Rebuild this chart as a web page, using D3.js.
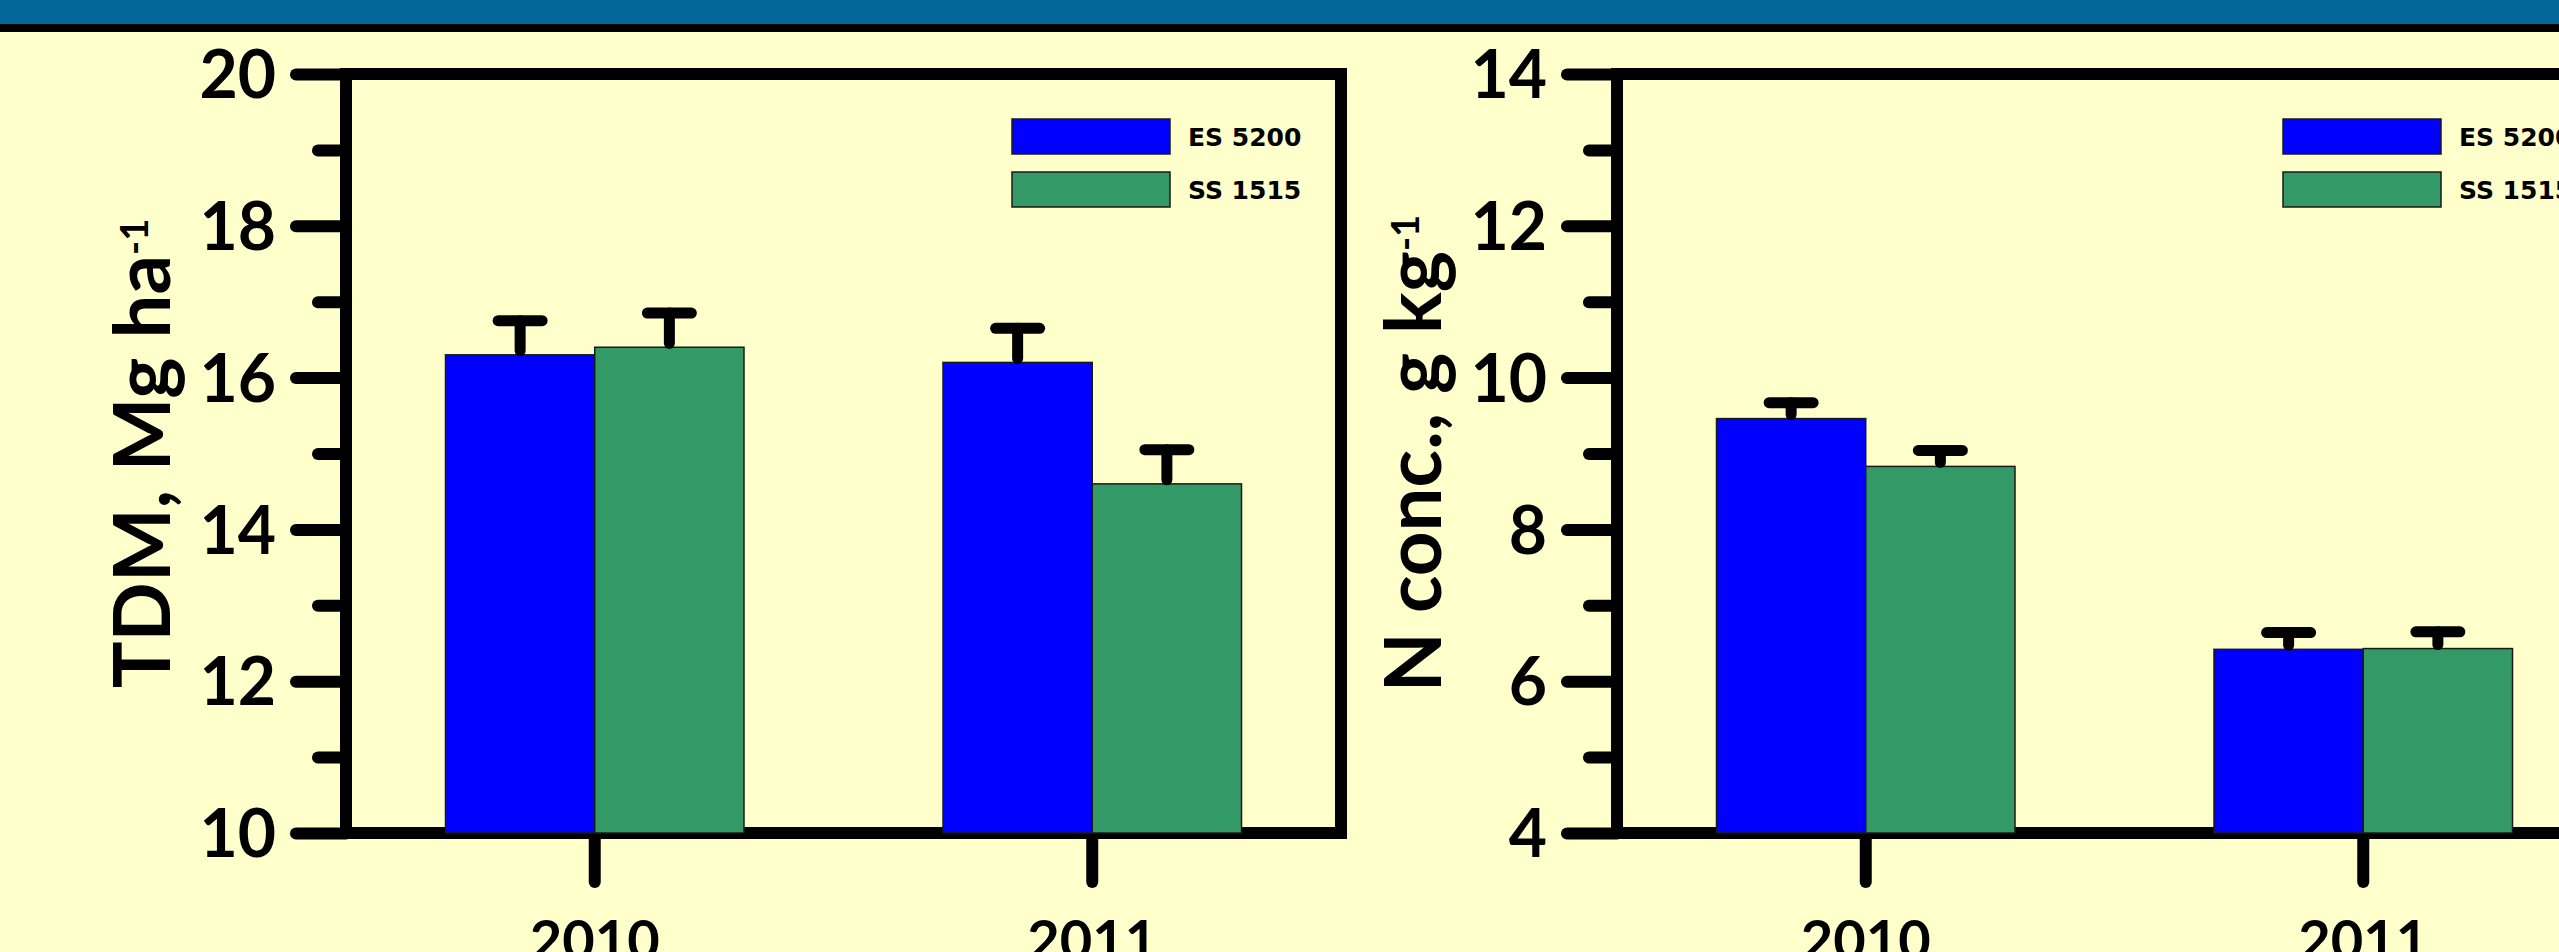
<!DOCTYPE html>
<html>
<head>
<meta charset="utf-8">
<script src="https://cdn.jsdelivr.net/npm/d3@7"></script>
<style>
  body { margin: 0; background: #ffffcc; overflow: hidden; }
  .axis text { font-family: Lato, sans-serif; font-weight: bold; fill: #000; }
  .ytitle { font-family: Lato, sans-serif; font-weight: bold; fill: #000; }
  .legend text { font-family: "DejaVu Sans", Verdana, sans-serif; font-weight: bold; fill: #000; }
</style>
</head>
<body>
<div id="chart-area"></div>
<script>
// data
var years = ["2010", "2011"];
var cultivars = ["ES 5200", "SS 1515"];
var colors = ["#0000ff", "#339966"];

// total dry matter, Mg/ha
var tdmES = [16.3, 16.2];
var tdmSS = [16.4, 14.6];
var tdmErrES = [0.45, 0.45];
var tdmErrSS = [0.45, 0.45];
var tdmTicks = [10, 12, 14, 16, 18, 20];
var tdmMinor = [11, 13, 15, 17, 19];

// N concentration, g/kg
var nES = [9.46, 6.42];
var nSS = [8.83, 6.43];
var nErrES = [0.21, 0.22];
var nErrSS = [0.21, 0.22];
var nTicks = [4, 6, 8, 10, 12, 14];
var nMinor = [5, 7, 9, 11, 13];

var W = 2559, H = 952;
var marginTop = 74;
var width = 995, height = 759;

var svg = d3.select("#chart-area")
    .append("svg")
        .attr("width", W)
        .attr("height", H);

svg.append("rect").attr("width", W).attr("height", H).attr("fill", "#ffffcc");

// header band
svg.append("rect").attr("width", W).attr("height", 24).attr("fill", "#03669a");
svg.append("rect").attr("y", 24).attr("width", W).attr("height", 8).attr("fill", "#000");

function makeRows(es, ss, esErr, ssErr) {
    return years.map(function(yr, i) {
        return {
            year: yr,
            values: [
                { key: cultivars[0], v: es[i], e: esErr[i] },
                { key: cultivars[1], v: ss[i], e: ssErr[i] }
            ]
        };
    });
}

function drawPanel(left, opts) {
    var g = svg.append("g")
        .attr("transform", "translate(" + left + "," + marginTop + ")");

    var x0 = d3.scaleBand()
        .domain(years)
        .range([0, width])
        .paddingInner(0.4)
        .paddingOuter(0.2);

    var x1 = d3.scaleBand()
        .domain(cultivars)
        .range([0, x0.bandwidth()]);

    var y = d3.scaleLinear()
        .domain([opts.ticks[0], opts.ticks[opts.ticks.length - 1]])
        .range([height, 0]);

    // frame
    g.append("rect")
        .attr("width", width)
        .attr("height", height)
        .attr("fill", "none")
        .attr("stroke", "#000")
        .attr("stroke-width", 12);

    // Y axis (minor + major)
    g.append("g")
        .attr("class", "axis")
        .call(d3.axisLeft(y).tickValues(opts.minor).tickSize(28).tickFormat(""));

    var yAxis = g.append("g")
        .attr("class", "axis")
        .call(d3.axisLeft(y).tickValues(opts.ticks).tickSize(50).tickPadding(20));
    yAxis.selectAll("text")
        .attr("font-size", 66)
        .attr("dy", "0.36em");

    // X axis
    var xAxis = g.append("g")
        .attr("class", "axis")
        .attr("transform", "translate(0," + height + ")")
        .call(d3.axisBottom(x0).tickSize(49).tickPadding(38));
    xAxis.selectAll("text")
        .attr("font-size", 56);

    g.selectAll(".axis .domain").remove();
    g.selectAll(".axis line")
        .attr("stroke", "#000")
        .attr("stroke-width", 12)
        .attr("stroke-linecap", "round");

    // Y title
    var title = g.append("text")
        .attr("class", "ytitle")
        .attr("text-anchor", "middle")
        .attr("font-size", 78)
        .attr("transform", "translate(-176," + (height / 2) + ") rotate(-90)");
    title.append("tspan").text(opts.title);
    title.append("tspan")
        .attr("font-size", 38)
        .attr("dy", -22)
        .text("-1");

    // Bars
    var rows = makeRows(opts.es, opts.ss, opts.esErr, opts.ssErr);

    var groups = g.selectAll(".grp")
        .data(rows)
        .enter()
        .append("g")
            .attr("class", "grp")
            .attr("transform", function(d) { return "translate(" + x0(d.year) + ",0)"; });

    groups.selectAll("rect")
        .data(function(d) { return d.values; })
        .enter()
        .append("rect")
            .attr("x", function(d) { return x1(d.key); })
            .attr("width", x1.bandwidth())
            .attr("y", function(d) { return y(d.v); })
            .attr("height", function(d) { return height - y(d.v); })
            .attr("fill", function(d, i) { return colors[i]; })
            .attr("stroke", "#1a1a1a")
            .attr("stroke-width", 1.5);

    // Error bars
    var err = groups.selectAll(".err")
        .data(function(d) { return d.values; })
        .enter()
        .append("g")
            .attr("class", "err")
            .attr("stroke", "#000")
            .attr("stroke-width", 11)
            .attr("stroke-linecap", "round");

    err.append("line")
        .attr("x1", function(d) { return x1(d.key) + x1.bandwidth() / 2; })
        .attr("x2", function(d) { return x1(d.key) + x1.bandwidth() / 2; })
        .attr("y1", function(d) { return y(d.v) - 4; })
        .attr("y2", function(d) { return y(d.v + d.e); });

    err.append("line")
        .attr("x1", function(d) { return x1(d.key) + x1.bandwidth() / 2 - 22; })
        .attr("x2", function(d) { return x1(d.key) + x1.bandwidth() / 2 + 22; })
        .attr("y1", function(d) { return y(d.v + d.e); })
        .attr("y2", function(d) { return y(d.v + d.e); });

    // Legend
    var legend = g.append("g")
        .attr("class", "legend")
        .attr("transform", "translate(666,45)");

    var items = legend.selectAll(".item")
        .data(cultivars)
        .enter()
        .append("g")
            .attr("class", "item")
            .attr("transform", function(d, i) { return "translate(0," + (i * 53) + ")"; });

    items.append("rect")
        .attr("width", 158)
        .attr("height", 35)
        .attr("fill", function(d, i) { return colors[i]; })
        .attr("stroke", "#1a1a1a")
        .attr("stroke-width", 1.5);

    items.append("text")
        .attr("x", 176)
        .attr("y", 17.5)
        .attr("dy", "0.36em")
        .attr("font-size", 25)
        .text(function(d) { return d; });
}

drawPanel(346, {
    title: "TDM, Mg ha",
    ticks: tdmTicks, minor: tdmMinor,
    es: tdmES, ss: tdmSS, esErr: tdmErrES, ssErr: tdmErrSS
});

drawPanel(1617, {
    title: "N conc., g kg",
    ticks: nTicks, minor: nMinor,
    es: nES, ss: nSS, esErr: nErrES, ssErr: nErrSS
});
</script>
</body>
</html>
